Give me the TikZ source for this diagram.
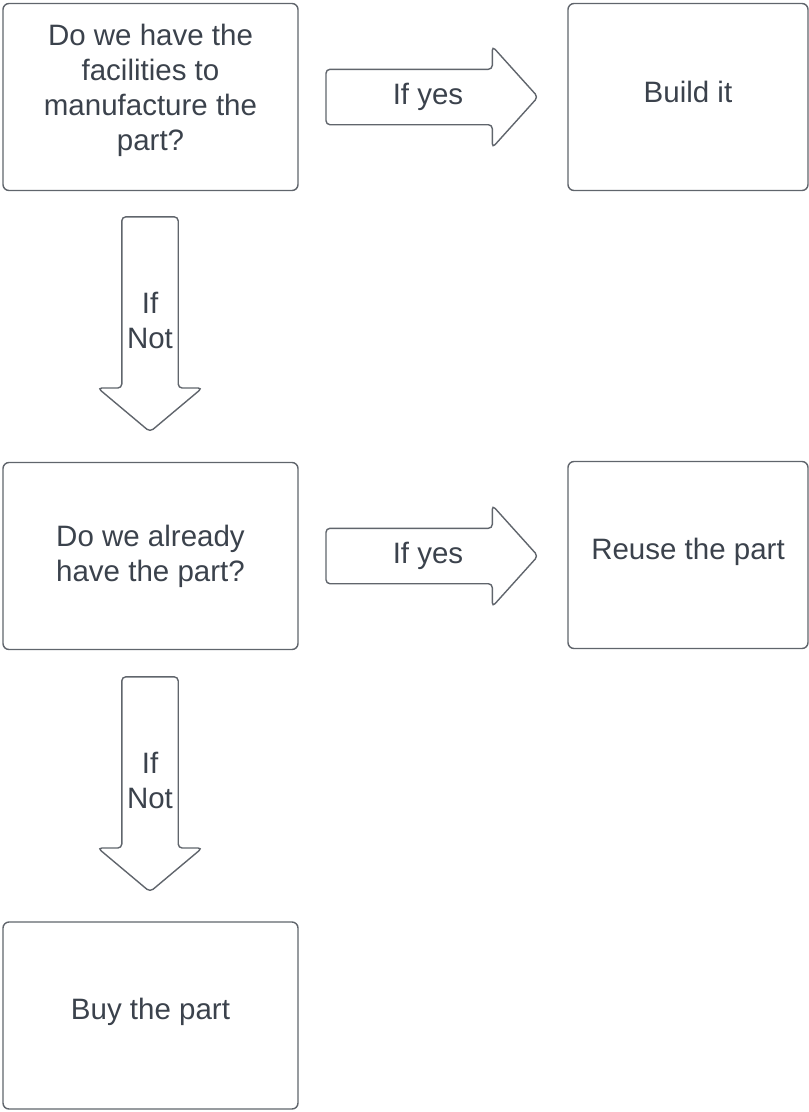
\documentclass[tikz,border=0pt]{standalone}
\usepackage{fontspec}
\setmainfont{Liberation Sans}
\usetikzlibrary{shapes.arrows}
\definecolor{linegray}{HTML}{60656C}
\definecolor{textgray}{HTML}{3B424C}

\begin{document}
\begin{tikzpicture}[x=1pt, y=-1pt, every node/.style={text=textgray, font=\fontsize{29.5}{35}\selectfont, align=center},
  question/.style={draw=linegray, line width=1.4pt, rounded corners=6pt, minimum width=295pt, minimum height=187pt, inner sep=0pt},
  answer/.style={question, minimum width=240pt},
  yesarrow/.style={draw=linegray, line width=1.4pt, rounded corners=4pt, single arrow, single arrow tip angle=96, single arrow head extend=23pt, minimum height=212pt, text height=21pt, text depth=6pt, inner ysep=13.5pt, inner xsep=0pt},
  notarrow/.style={draw=linegray, line width=1.4pt, rounded corners=4pt, single arrow, shape border rotate=270, single arrow tip angle=100, single arrow head extend=24pt, minimum height=215pt, text width=45pt, inner xsep=5pt}]
\useasboundingbox (0,0) rectangle (809,1112);
\node[question, text depth=20pt] (facilities) at (150.5,97) {Do we have the\\facilities to\\manufacture the\\part?};
\node[answer, text depth=10pt] (build) at (688,97) {Build it};
\node[question] (already) at (150.5,556) {Do we already\\have the part?};
\node[answer, text depth=12pt] (reuse) at (688,555) {Reuse the part};
\node[question, text depth=14pt] (buy) at (150.5,1015.5) {Buy the part};
% block arrows, text set as a label so it sits mid-arrow
\node[yesarrow, label={[xshift=8.5pt]center:If yes}] (yesone) at (419.5,97) {};
\node[yesarrow, label={[xshift=8.5pt]center:If yes}] (yestwo) at (419.5,556) {};
\node[notarrow, label={[yshift=-8pt]center:If\\Not}] (notone) at (150,312.5) {};
\node[notarrow, label={[yshift=-8pt]center:If\\Not}] (nottwo) at (150,772.5) {};
\end{tikzpicture}
\end{document}
